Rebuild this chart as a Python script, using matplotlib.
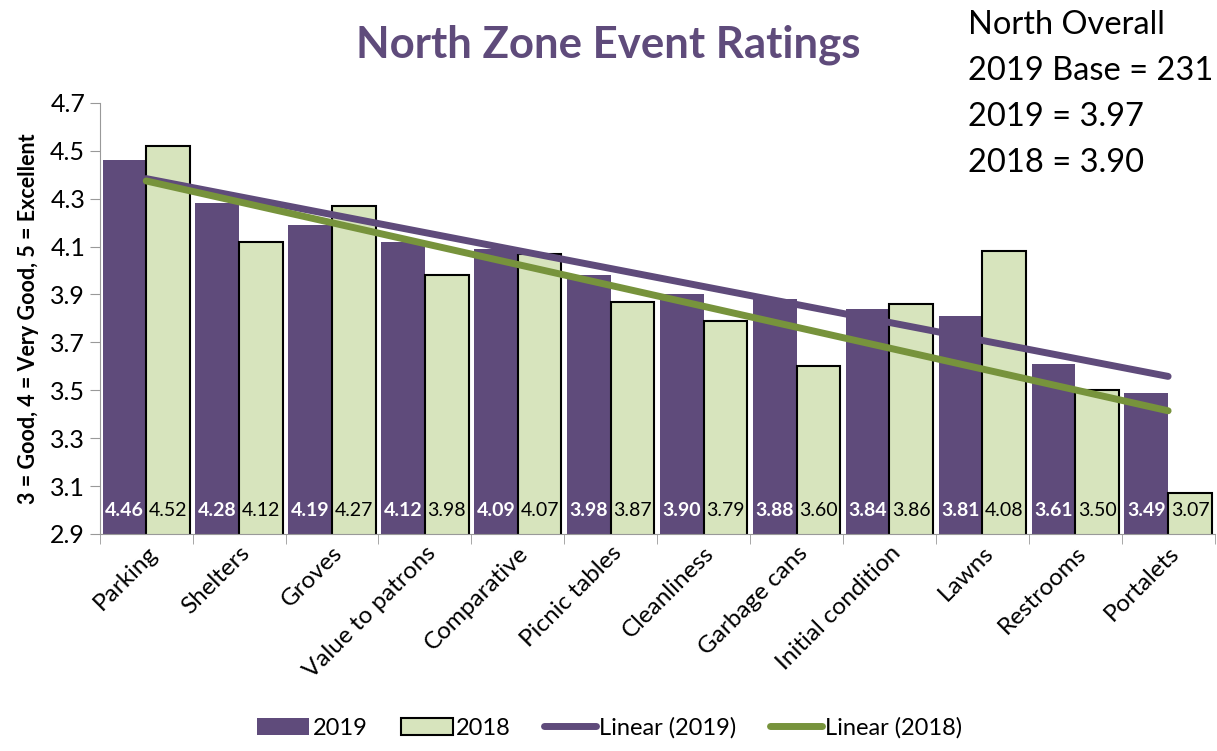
import numpy as np
import matplotlib.pyplot as plt

plt.rcParams['font.family'] = ['Lato', 'DejaVu Sans']

categories = ["Parking", "Shelters", "Groves", "Value to patrons", "Comparative",
              "Picnic tables", "Cleanliness", "Garbage cans", "Initial condition",
              "Lawns", "Restrooms", "Portalets"]
r2019 = [4.46, 4.28, 4.19, 4.12, 4.09, 3.98, 3.90, 3.88, 3.84, 3.81, 3.61, 3.49]
r2018 = [4.52, 4.12, 4.27, 3.98, 4.07, 3.87, 3.79, 3.60, 3.86, 4.08, 3.50, 3.07]
yticks = [2.9, 3.1, 3.3, 3.5, 3.7, 3.9, 4.1, 4.3, 4.5, 4.7]
overall = ["North Overall", "2019 Base = 231", "2019 = 3.97", "2018 = 3.90"]

purple = "#5f4b7b"
green_fill = "#d7e4bd"
green_line = "#77933c"

fig = plt.figure(figsize=(12.17, 7.51), dpi=100)
ax = fig.add_axes([0.082, 0.289, 0.916, 0.574])

x = np.arange(len(categories))
w = 0.47
b19 = ax.bar(x - w / 2, r2019, w, color=purple, label="2019", zorder=2)
b18 = ax.bar(x + w / 2, r2018, w, color=green_fill, edgecolor="black", linewidth=1.5,
             label="2018", zorder=2)

# trend lines
a1, c1 = np.polyfit(x, r2019, 1)
a2, c2 = np.polyfit(x, r2018, 1)
l19, = ax.plot(x, a1 * x + c1, color=purple, lw=5, solid_capstyle="round",
               label="Linear (2019)", zorder=3)
l18, = ax.plot(x, a2 * x + c2, color=green_line, lw=5, solid_capstyle="round",
               label="Linear (2018)", zorder=4)

for i in range(len(categories)):
    ax.text(x[i] - w / 2, 3.0, f"{r2019[i]:.2f}", ha="center", va="center",
            color="white", fontsize=14, fontweight="bold", zorder=5)
    ax.text(x[i] + w / 2, 3.0, f"{r2018[i]:.2f}", ha="center", va="center",
            color="black", fontsize=14, zorder=5)

ax.set_ylim(2.9, 4.7)
ax.set_xlim(-0.5, len(categories) - 0.5)
ax.set_yticks(yticks)
ax.set_yticklabels([f"{t:.1f}" for t in yticks], fontsize=18)
ax.set_xticks(x)
ax.set_xticklabels(categories, rotation=45, ha="right", rotation_mode="anchor",
                   fontsize=17.5)
ax.set_xticks(np.arange(len(categories) + 1) - 0.5, minor=True)
ax.tick_params(axis="x", which="major", length=0, pad=6)
ax.tick_params(axis="x", which="minor", length=7, color="#999999")
ax.tick_params(axis="y", length=7, color="#999999")
for s in ["top", "right"]:
    ax.spines[s].set_visible(False)
ax.spines["left"].set_color("#999999")
ax.spines["bottom"].set_color("#999999")

ax.set_ylabel("3 = Good, 4 = Very Good, 5 = Excellent", fontsize=15.5,
              fontweight="bold", labelpad=8)

fig.text(0.5, 0.94, "North Zone Event Ratings", ha="center", va="center",
         fontsize=31.5, fontweight="bold", color=purple)
for k, line in enumerate(overall):
    fig.text(0.795, 1 - (25 + 46 * k) / 751, line, ha="left", va="center",
             fontsize=23.5)

fig.legend(handles=[b19, b18, l19, l18], loc="lower center",
           bbox_to_anchor=(0.501, -0.012), ncol=4, frameon=False, fontsize=17,
           handlelength=2.2, handleheight=0.75, columnspacing=1.4,
           handletextpad=0.15)

plt.savefig("out.png")
